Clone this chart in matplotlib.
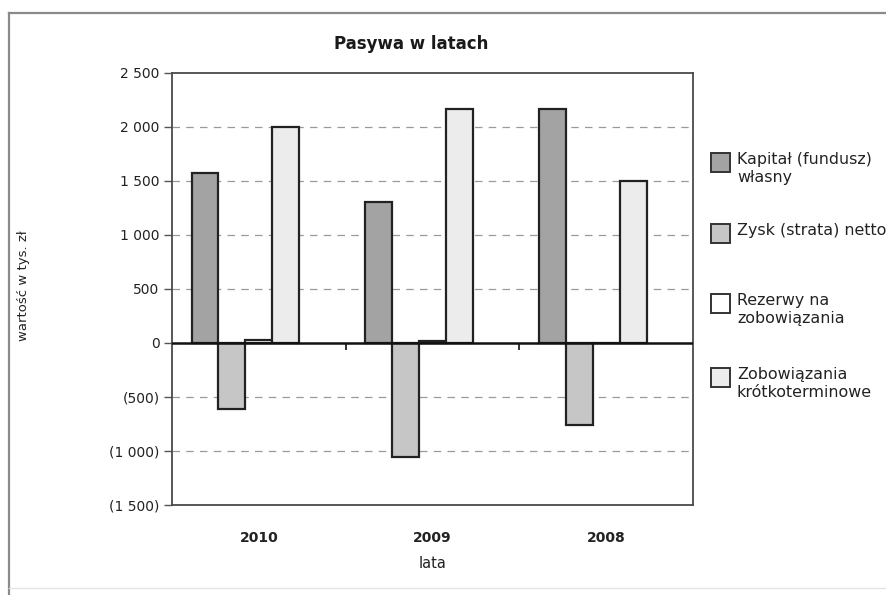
import matplotlib.pyplot as plt
import numpy as np
from matplotlib.lines import Line2D
from matplotlib.patches import Rectangle
from matplotlib.ticker import FuncFormatter

years = ['2010', '2009', '2008']
series_names = ['Kapitał (fundusz)\nwłasny', 'Zysk (strata) netto',
                'Rezerwy na\nzobowiązania', 'Zobowiązania\nkrótkoterminowe']
kapital = [1570, 1310, 2170]
zysk = [-610, -1060, -760]
rezerwy = [25, 15, 0]
zobowiazania = [2000, 2170, 1500]
y_ticks = [-1500, -1000, -500, 0, 500, 1000, 1500, 2000, 2500]

colors = ['#a3a3a3', '#c6c6c6', '#ffffff', '#ececec']
W, H = 886, 595


def fmt_pl(v, _pos=None):
    """2 500 / (1 000) style, like the accounting format in the sheet"""
    s = f'{abs(int(v)):,}'.replace(',', ' ')
    return f'({s})' if v < 0 else s


fig = plt.figure(figsize=(W / 100, H / 100), dpi=100)
fig.patch.set_facecolor('white')

# chart area frame (top and left edges visible)
fig.add_artist(Line2D([9 / W, 1], [1 - 13 / H, 1 - 13 / H], color='#8a8a8a', lw=1.6))
fig.add_artist(Line2D([9 / W, 9 / W], [0, 1 - 13 / H], color='#8a8a8a', lw=1.6))
fig.add_artist(Line2D([9 / W, 1], [1 - 588 / H, 1 - 588 / H], color='#e4e4e4', lw=1.0))

ax = fig.add_axes([172 / W, 1 - 505 / H, (693 - 172) / W, (505 - 73) / H])

x = np.arange(len(years))
w = 0.155
all_series = [kapital, zysk, rezerwy, zobowiazania]
for i, (vals, col) in enumerate(zip(all_series, colors)):
    ax.bar(x + (i - 2) * w, vals, width=w, color=col, edgecolor='#222222',
           linewidth=1.6, zorder=3)

ax.set_xlim(-0.5, 2.5)
ax.set_ylim(-1500, 2500)
ax.set_yticks(y_ticks)
ax.yaxis.set_major_formatter(FuncFormatter(fmt_pl))
ax.tick_params(axis='y', length=6, width=1, color='#555555', pad=3,
               labelsize=10, labelcolor='#222222')

for v in y_ticks:
    if v not in (0, 2500, -1500):
        ax.axhline(v, color='#9a9a9a', lw=0.9, ls=(0, (6, 5)), zorder=1)
ax.axhline(0, color='#111111', lw=1.8, zorder=4)
# category separators on the zero line
ax.plot([0.5, 1.5], [0, 0], ls='none', marker=3, ms=5, mew=1.2,
        color='#111111', zorder=4)

ax.set_xticks(x)
ax.set_xticklabels(years, fontsize=10, fontweight='bold', color='#222222')
ax.tick_params(axis='x', length=0, pad=19)

for side in ax.spines.values():
    side.set_color('#4a4a4a')
    side.set_linewidth(1.3)

ax.set_title('Pasywa w latach', fontsize=12, fontweight='bold', pad=17,
             color='#1a1a1a', x=0.46)
ax.set_xlabel('lata', fontsize=10.5, color='#222222', labelpad=8)
fig.text(24 / W, 1 - 286 / H, 'wartość w tys. zł', rotation=90, fontsize=9.5,
         ha='center', va='center', color='#222222')

# legend on the right, box aligned with the first text line
legend_tops = [153, 224, 294, 368]
for name, col, top in zip(series_names, colors, legend_tops):
    fig.add_artist(Rectangle((711 / W, 1 - (top + 19) / H), 19 / W, 19 / H,
                             transform=fig.transFigure, facecolor=col,
                             edgecolor='#333333', lw=1.4))
    fig.text(737 / W, 1 - (top - 1) / H, name, fontsize=11.4, va='top',
             ha='left', color='#222222', linespacing=1.25)

fig.savefig('out.png', dpi=100)
